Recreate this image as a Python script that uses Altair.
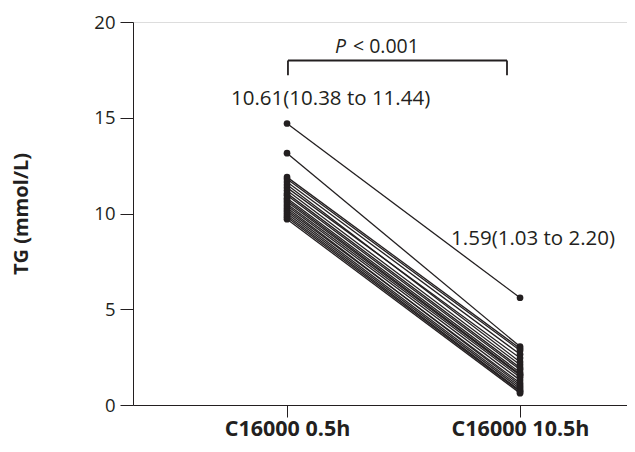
import altair as alt
import pandas as pd

categories = ["C16000 0.5h", "C16000 10.5h"]
tg_05h = [14.70, 13.15, 11.90, 11.80, 11.65, 11.50, 11.35, 11.20, 11.05, 10.95,
          10.80, 10.70, 10.61, 10.50, 10.40, 10.30, 10.20, 10.10, 10.00, 9.90,
          9.80, 9.70]
tg_105h = [5.60, 3.05, 2.95, 2.85, 2.65, 2.25, 2.45, 2.10, 1.95, 1.85,
           1.70, 1.60, 1.55, 1.45, 1.30, 1.05, 1.15, 0.95, 0.85, 0.75,
           0.70, 0.62]

rows = []
for i, (a, b) in enumerate(zip(tg_05h, tg_105h)):
    rows.append({"id": i, "t": 0, "tg": a})
    rows.append({"id": i, "t": 1, "tg": b})
df = pd.DataFrame(rows)

FONT = "Open Sans"
INK = "#231f20"
xscale = alt.Scale(domain=[-0.661, 1.459], nice=False, zero=False)
yscale = alt.Scale(domain=[0, 20], nice=False)

x_enc = alt.X("t:Q", scale=xscale,
              axis=alt.Axis(values=[0, 1], title=None, grid=False,
                            labelExpr="datum.value == 0 ? '%s' : '%s'" % (categories[0], categories[1]),
                            labelFont=FONT, labelFontSize=21.5, labelFontWeight="bold",
                            labelColor=INK, labelPadding=1,
                            tickSize=12, tickColor=INK, domainColor=INK,
                            labelFlush=False))
y_enc = alt.Y("tg:Q", scale=yscale,
              axis=alt.Axis(values=[0, 5, 10, 15, 20], title="TG (mmol/L)", grid=False,
                            labelFont=FONT, labelFontSize=18.5, labelColor=INK,
                            labelPadding=5, tickSize=13, tickColor=INK, domainColor=INK,
                            titleFont=FONT, titleFontSize=20, titleFontWeight="bold",
                            titleColor=INK, titlePadding=62))

lines = alt.Chart(df).mark_line(color=INK, strokeWidth=1.3).encode(
    x=x_enc, y=y_enc, detail="id:N")
points = alt.Chart(df).mark_circle(color=INK, size=45, opacity=1).encode(
    x="t:Q", y="tg:Q")

ann = pd.DataFrame({
    "x": [0.187, 1.056],
    "y": [15.98, 8.66],
    "label": ["10.61(10.38 to 11.44)", "1.59(1.03 to 2.20)"],
})
ann_text = alt.Chart(ann).mark_text(font=FONT, fontSize=20.5, color=INK,
                                    align="center", baseline="middle").encode(
    x="x:Q", y="y:Q", text="label:N")

p_df = pd.DataFrame({"x": [0.206], "y": [18.72], "label": ["P"]})
p_text = alt.Chart(p_df).mark_text(font=FONT, fontSize=19.5, fontStyle="italic",
                                   color=INK, align="left", baseline="middle").encode(
    x="x:Q", y="y:Q", text="label:N")
p2_df = pd.DataFrame({"x": [0.283], "y": [18.72], "label": ["< 0.001"]})
p2_text = alt.Chart(p2_df).mark_text(font=FONT, fontSize=19.5,
                                     color=INK, align="left", baseline="middle").encode(
    x="x:Q", y="y:Q", text="label:N")

br_h = pd.DataFrame({"x": [0.004], "x2": [0.944], "y": [17.99]})
bracket_h = alt.Chart(br_h).mark_rule(color=INK, strokeWidth=1.8).encode(
    x="x:Q", x2="x2", y="y:Q")
br_v = pd.DataFrame({"x": [0.004, 0.944], "y": [17.99, 17.99], "y2": [17.22, 17.22]})
bracket_v = alt.Chart(br_v).mark_rule(color=INK, strokeWidth=1.8).encode(
    x="x:Q", y="y:Q", y2="y2")

chart = alt.layer(lines, points, ann_text, p_text, p2_text, bracket_h, bracket_v).properties(
    width=494, height=383,
    autosize=alt.AutoSizeParams(type="none"),
    padding={"left": 125, "top": 14, "right": 0, "bottom": 39},
).configure_view(stroke=None).configure(background="white")

chart.save("out.html", embed_options={"renderer": "svg", "actions": False})
